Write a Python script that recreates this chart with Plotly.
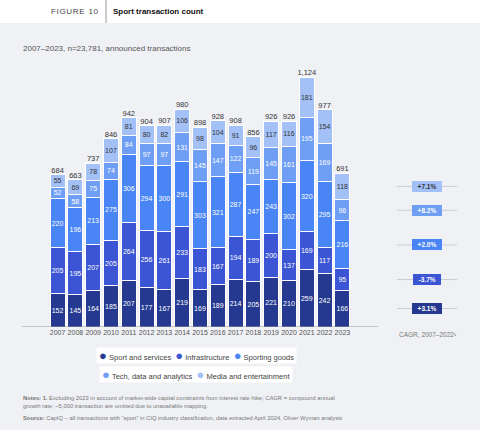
import plotly.graph_objects as go

# --- data ---
years = [str(y) for y in range(2007, 2024)]
sport_services = [152, 145, 164, 185, 207, 177, 167, 219, 169, 189, 214, 205, 221, 210, 259, 242, 166]
infrastructure = [205, 195, 207, 205, 264, 256, 261, 233, 183, 167, 194, 189, 200, 137, 169, 117, 95]
sporting_goods = [220, 196, 213, 275, 306, 294, 300, 291, 303, 321, 287, 247, 243, 302, 320, 295, 216]
tech_data = [52, 58, 75, 74, 84, 97, 97, 131, 145, 147, 122, 119, 145, 161, 195, 169, 96]
media_ent = [55, 69, 78, 107, 81, 80, 82, 106, 98, 104, 91, 96, 117, 116, 181, 154, 118]
cagr = ["+3.1%", "-3.7%", "+2.0%", "+8.2%", "+7.1%"]

series = [
    ("Sport and services", sport_services, "#24398f", "white"),
    ("Infrastructure", infrastructure, "#3b55d4", "white"),
    ("Sporting goods", sporting_goods, "#4a85f5", "white"),
    ("Tech, data and analytics", tech_data, "#6f9ef5", "white"),
    ("Media and entertainment", media_ent, "#a3c0f7", "#333333"),
]

FONT = "Liberation Sans, Arial, sans-serif"
BG = "#f0f1f5"

# plot area spans x 22..470, y 49..327 of the 480x430 page
L, R, T, B = 22, 470, 49, 327
STEP = 17.8          # pixels per category
X0 = -2.0            # left end of the category range
X1 = X0 + (R - L) / STEP

def px(x):
    return (x - L) / (R - L)
def py(y):
    return (B - y) / (B - T)
def cx(x):
    # page pixel -> category coordinate
    return X0 + (x - L) / STEP

fig = go.Figure()

for name, vals, color, tcolor in series:
    fig.add_trace(go.Bar(
        x=years, y=vals, name=name,
        marker=dict(color=color, line=dict(color="white", width=1)),
        text=vals, textposition="inside", insidetextanchor="middle",
        textangle=0, constraintext="none",
        textfont=dict(family=FONT, size=7, color=tcolor),
        hoverinfo="x+y+name",
    ))

totals = [sum(v) for v in zip(sport_services, infrastructure, sporting_goods, tech_data, media_ent)]
fig.add_trace(go.Scatter(
    x=years, y=totals, mode="text",
    text=[f"{t:,}" for t in totals], textposition="top center",
    textfont=dict(family=FONT, size=7.5, color="#333333"),
    showlegend=False, hoverinfo="skip",
))

annotations = []
shapes = []

def note(x, y, text, size, color, xanchor="left", **kw):
    # page-pixel positioned text, centred vertically on y
    annotations.append(dict(xref="paper", yref="paper", x=px(x), y=py(y),
                            xanchor=xanchor, yanchor="middle", text=text, showarrow=False,
                            font=dict(family=FONT, size=size, color=color), **kw))

# baseline under the bars only
shapes.append(dict(type="line", xref="x", yref="y", x0=X0, x1=cx(378), y0=0, y1=0,
                   line=dict(color="#9a9a9a", width=1)))

# CAGR pills aligned with the 2023 segments
base = 0
for (name, vals, color, tcolor), label in zip(series, cagr):
    mid = base + vals[-1] / 2
    base += vals[-1]
    shapes.append(dict(type="line", xref="x", yref="y",
                       x0=cx(397), x1=cx(457), y0=mid, y1=mid,
                       line=dict(color="#c9ccd6", width=1)))
    annotations.append(dict(
        xref="x", yref="y", x=cx(427), y=mid, xanchor="center", yanchor="middle",
        text=f"<b>  {label}  </b>",
        showarrow=False, bgcolor=color, bordercolor=color, borderpad=1,
        font=dict(family=FONT, size=6.5, color=tcolor),
    ))

note(428, 334, "CAGR, 2007–2022¹", 6.5, "#777777", xanchor="center")

# legend rows built as text so the circles sit close to their labels
def legend_row(items):
    parts = []
    for name, vals, color, tcolor in items:
        parts.append(f'<span style="color:{color};font-size:13px">●</span> {name}')
    return " " + "  ".join(parts) + " "

note(196, 355.5, legend_row(series[:3]), 7.5, "#444444", xanchor="center",
     bgcolor="white", borderpad=0)
note(196, 374.5, legend_row(series[3:]), 7.5, "#444444", xanchor="center",
     bgcolor="white", borderpad=0)

# header band
shapes.append(dict(type="rect", xref="paper", yref="paper", x0=px(0), x1=px(480),
                   y0=py(23), y1=py(0), fillcolor="white", line=dict(width=0), layer="below"))
shapes.append(dict(type="line", xref="paper", yref="paper", x0=px(106), x1=px(106),
                   y0=py(23), y1=py(0), line=dict(color="#999999", width=1)))
note(101, 12, "F\u200aI\u200aG\u200aU\u200aR\u200aE\u2009 1\u200a0", 8, "#444444", xanchor="right")
note(111, 12, "<b>Sport transaction count</b>", 8, "#111111")
note(21, 48, "2007–2023, n=23,781, announced transactions", 8, "#555555")

# notes and source
note(21, 402.5,
     "<b>Notes: 1.</b> Excluding 2023 in account of market-wide capital constraints from interest rate hike; "
     "CAGR = compound annual<br>growth rate; ~5,000 transaction are omitted due to unavailable mapping.",
     5.8, "#777777", align="left")
note(21, 417.5,
     "<b>Source:</b> CapIQ – all transactions with “sport” in CIQ industry classification, "
     "data extracted April 2024, Oliver Wyman analysis",
     5.8, "#777777", align="left")

fig.update_layout(
    width=480, height=430,
    margin=dict(l=L, r=480 - R, t=T, b=430 - B),
    paper_bgcolor=BG, plot_bgcolor=BG,
    barmode="stack", bargap=0.16, showlegend=False,
    font=dict(family=FONT),
    xaxis=dict(type="category", range=[X0, X1], showgrid=False, showline=False,
               zeroline=False, ticks="", tickangle=0, fixedrange=True,
               tickfont=dict(family=FONT, size=7, color="#555555")),
    yaxis=dict(range=[0, 1250], visible=False, fixedrange=True),
    annotations=annotations, shapes=shapes,
)

fig.write_html("out.html", config={"displayModeBar": False},
               post_script="document.body.style.margin='0';document.body.style.background='#f0f1f5';")
